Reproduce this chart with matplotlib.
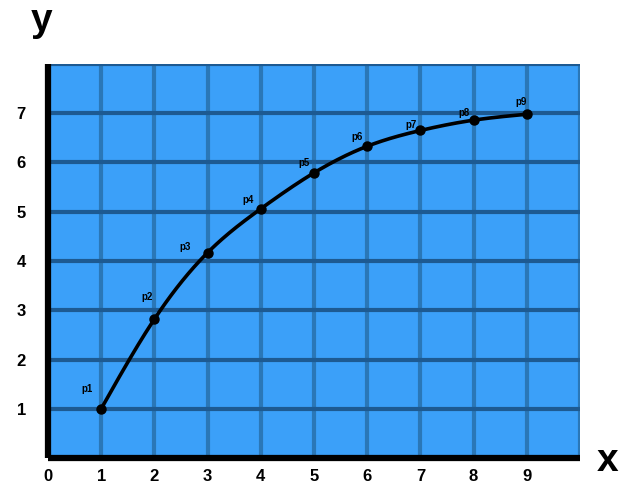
import numpy as np
import matplotlib
matplotlib.use('Agg')
import matplotlib.pyplot as plt

# Dados
x_pts = [1, 2, 3, 4, 5, 6, 7, 8, 9]
y_pts = [1.0, 2.82, 4.17, 5.06, 5.79, 6.33, 6.65, 6.86, 6.98]
rotulos = ['p1', 'p2', 'p3', 'p4', 'p5', 'p6', 'p7', 'p8', 'p9']
xticks = [0, 1, 2, 3, 4, 5, 6, 7, 8, 9]
yticks = [1, 2, 3, 4, 5, 6, 7]

# deslocamento dos rotulos (pontos)
offs = [(-10, 14), (-5, 16), (-16, 4), (-9, 6), (-7, 7), (-7, 7),
        (-7, 4), (-7, 5), (-4, 9)]

plt.rcParams['font.family'] = ['Liberation Sans', 'DejaVu Sans']

fig = plt.figure(figsize=(6.33, 5.01), dpi=100)
ax = fig.add_axes([48 / 633, 43 / 501, 532 / 633, 394 / 501])
ax.set_facecolor('#3ba0f9')
ax.set_xlim(0, 10)
ax.set_ylim(0, 8)

# grade
for yy in range(1, 9):
    ax.axhline(yy, color='#1d5a92', lw=3, zorder=1)
for xx in range(1, 11):
    ax.axvline(xx, color='#2a77b7', lw=3, zorder=0.9)


# spline cubica natural p/ desenhar a curva suave
def spline(x, y, n=300):
    x = np.asarray(x, float)
    y = np.asarray(y, float)
    h = np.diff(x)
    m = len(x)
    A = np.zeros((m, m))
    b = np.zeros(m)
    A[0, 0] = A[-1, -1] = 1
    for i in range(1, m - 1):
        A[i, i - 1] = h[i - 1]
        A[i, i] = 2 * (h[i - 1] + h[i])
        A[i, i + 1] = h[i]
        b[i] = 6 * ((y[i + 1] - y[i]) / h[i] - (y[i] - y[i - 1]) / h[i - 1])
    M = np.linalg.solve(A, b)
    xs = np.linspace(x[0], x[-1], n)
    idx = np.clip(np.searchsorted(x, xs) - 1, 0, m - 2)
    x0, x1 = x[idx], x[idx + 1]
    hh = x1 - x0
    ys = (M[idx] * (x1 - xs) ** 3 / (6 * hh) + M[idx + 1] * (xs - x0) ** 3 / (6 * hh)
          + (y[idx] / hh - M[idx] * hh / 6) * (x1 - xs)
          + (y[idx + 1] / hh - M[idx + 1] * hh / 6) * (xs - x0))
    return xs, ys


xs, ys = spline(x_pts, y_pts)
ax.plot(xs, ys, color='black', lw=2.6, zorder=3, solid_capstyle='round')
ax.plot(x_pts, y_pts, 'o', color='black', ms=6.5, zorder=4)

for xp, yp, r, o in zip(x_pts, y_pts, rotulos, offs):
    ax.annotate(r, (xp, yp), xytext=o, textcoords='offset points',
                ha='center', va='center', fontsize=7, fontweight='bold',
                zorder=5)

ax.set_xticks(xticks)
ax.set_yticks(yticks)
ax.set_xticklabels([str(t) for t in xticks], fontsize=12, fontweight='bold')
ax.set_yticklabels([str(t) for t in yticks], fontsize=12, fontweight='bold')
ax.tick_params(axis='x', length=0, pad=8)
ax.tick_params(axis='y', length=0, pad=16)

for s in ['top', 'right']:
    ax.spines[s].set_visible(False)
for s in ['left', 'bottom']:
    ax.spines[s].set_linewidth(4.5)
    ax.spines[s].set_zorder(6)
    ax.spines[s].set_capstyle('butt')

fig.text(42 / 633, 1 - 21 / 501, 'y', fontsize=28, fontweight='bold',
         ha='center', va='center')
fig.text(608 / 633, 1 - 461 / 501, 'x', fontsize=28, fontweight='bold',
         ha='center', va='center')

fig.savefig('out.png', dpi=100)
